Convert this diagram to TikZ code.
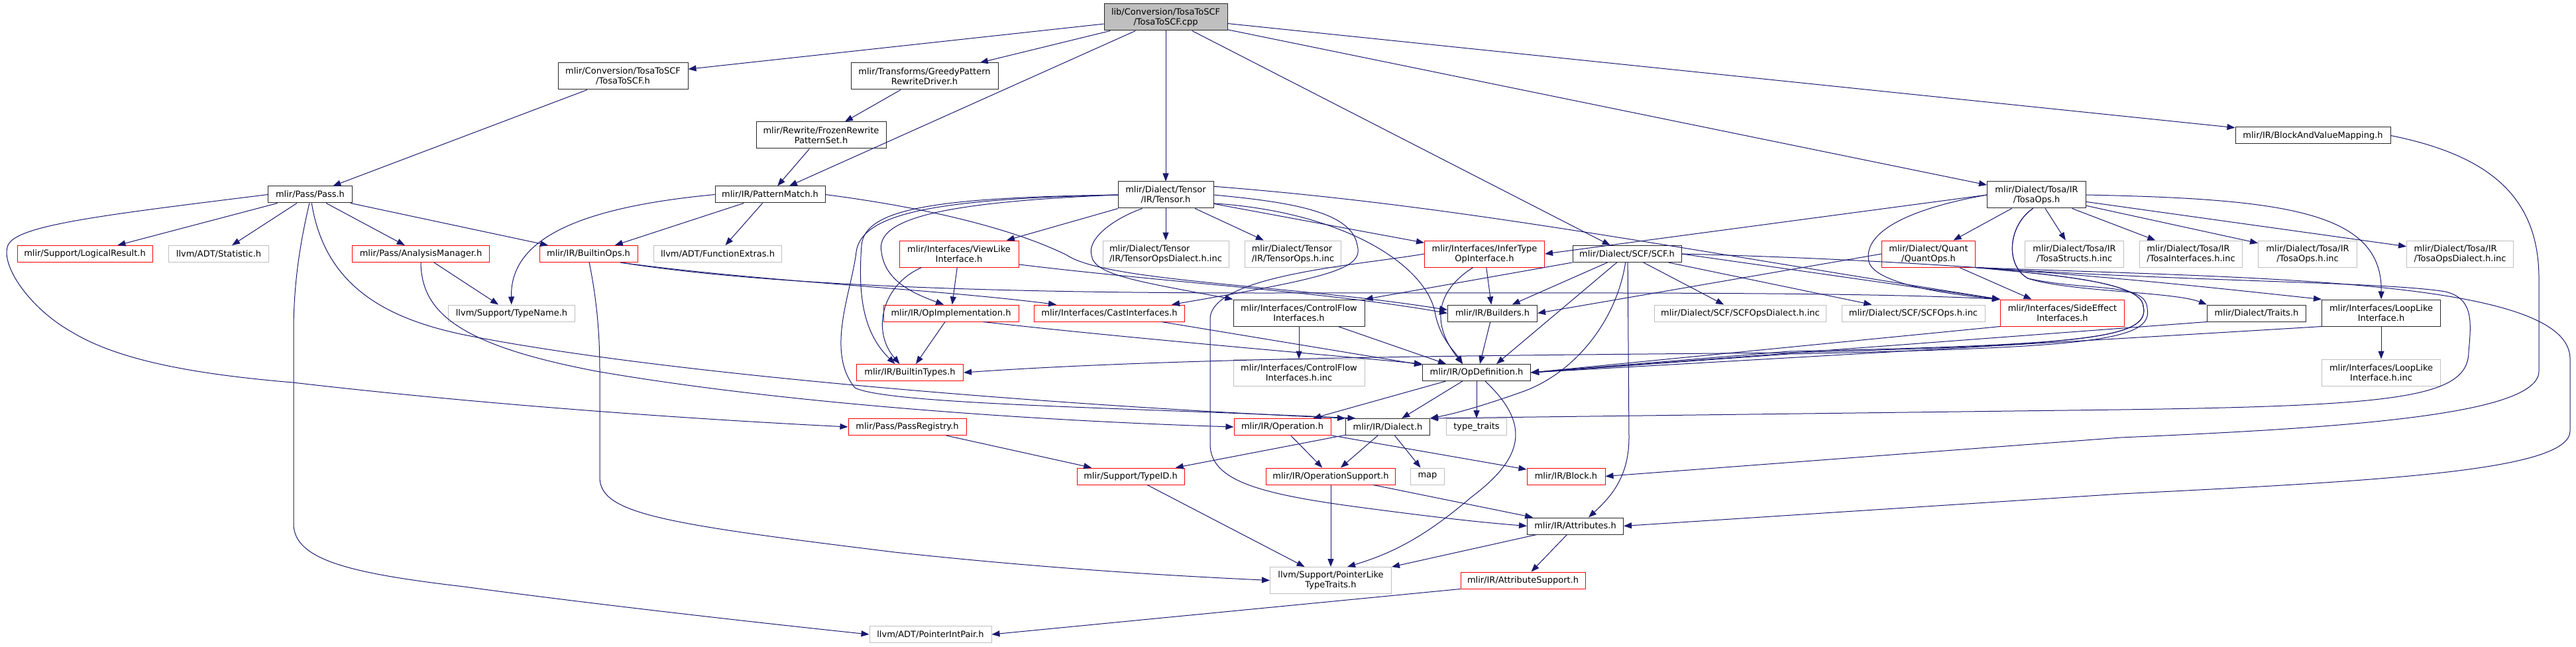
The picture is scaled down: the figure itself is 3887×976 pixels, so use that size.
\documentclass[tikz,border=0pt]{standalone}
\usepackage{fontspec}
\setmainfont{DejaVu Sans}
\usetikzlibrary{arrows.meta}

\definecolor{edgeblue}{HTML}{191970}
\definecolor{sysgray}{HTML}{BFBFBF}

\tikzset{
    hdr/.style={draw=black!85, line width=1pt, rectangle, inner sep=2pt, align=center,
        minimum height=25pt, font=\fontsize{13}{15}\selectfont},
    root/.style={hdr, fill=sysgray},
    trunc/.style={hdr, draw=red, line width=1pt},
    sys/.style={hdr, draw=sysgray, line width=1pt},
    dbl/.style={minimum height=40pt},
    inc/.style={draw=edgeblue, line width=1pt, -{Triangle[length=12pt,width=9pt]}},
}

\begin{document}
\begin{tikzpicture}[x=1pt, y=-1pt]
    \useasboundingbox (0,0) rectangle (3887,976);

    \node[root, dbl, minimum width=186pt] (cpp) at (1759,26) {lib/Conversion/TosaToSCF\\/TosaToSCF.cpp};
    \node[hdr, dbl, minimum width=196pt] (tosascfh) at (940,115) {mlir/Conversion/TosaToSCF\\/TosaToSCF.h};
    \node[hdr, dbl, minimum width=222pt] (greedy) at (1395,115) {mlir/Transforms/GreedyPattern\\RewriteDriver.h};
    \node[hdr, dbl, minimum width=196pt] (frozen) at (1239,204) {mlir/Rewrite/FrozenRewrite\\PatternSet.h};
    \node[hdr, minimum width=234pt] (bvm) at (3490,204.5) {mlir/IR/BlockAndValueMapping.h};
    \node[hdr, minimum width=127pt] (pass) at (468,293.5) {mlir/Pass/Pass.h};
    \node[hdr, minimum width=166pt] (patmatch) at (1162,293.5) {mlir/IR/PatternMatch.h};
    \node[hdr, dbl, minimum width=144pt] (tensor) at (1759,294) {mlir/Dialect/Tensor\\/IR/Tensor.h};
    \node[hdr, dbl, minimum width=149pt] (tosaops) at (3073,294) {mlir/Dialect/Tosa/IR\\/TosaOps.h};

    \node[trunc, minimum width=204pt] (logres) at (128,383) {mlir/Support/LogicalResult.h};
    \node[sys, minimum width=151pt] (statistic) at (330,383) {llvm/ADT/Statistic.h};
    \node[trunc, minimum width=207pt] (analysis) at (635,383) {mlir/Pass/AnalysisManager.h};
    \node[trunc, minimum width=148pt] (builtinops) at (888,383) {mlir/IR/BuiltinOps.h};
    \node[sys, minimum width=193pt] (funcextras) at (1083,383) {llvm/ADT/FunctionExtras.h};
    \node[trunc, dbl, minimum width=180pt] (viewlike) at (1447,383) {mlir/Interfaces/ViewLike\\Interface.h};
    \node[sys, dbl, minimum width=190pt, align=left] (tensordialectinc) at (1759,383) {mlir/Dialect/Tensor\\/IR/TensorOpsDialect.h.inc};
    \node[sys, dbl, minimum width=145pt, align=left] (tensoropsinc) at (1951,383) {mlir/Dialect/Tensor\\/IR/TensorOps.h.inc};
    \node[trunc, dbl, minimum width=181pt] (infertype) at (2240,383) {mlir/Interfaces/InferType\\OpInterface.h};
    \node[hdr, minimum width=164pt] (scf) at (2455,383) {mlir/Dialect/SCF/SCF.h};
    \node[trunc, dbl, minimum width=141pt] (quantops) at (2910,383) {mlir/Dialect/Quant\\/QuantOps.h};
    \node[sys, dbl, minimum width=149pt] (tosastructs) at (3130,383) {mlir/Dialect/Tosa/IR\\/TosaStructs.h.inc};
    \node[sys, dbl, minimum width=155pt, align=left] (tosaifaces) at (3306,383) {mlir/Dialect/Tosa/IR\\/TosaInterfaces.h.inc};
    \node[sys, dbl, minimum width=149pt] (tosaopsinc) at (3482,383) {mlir/Dialect/Tosa/IR\\/TosaOps.h.inc};
    \node[sys, dbl, minimum width=161pt, align=left] (tosadialectinc) at (3712,383) {mlir/Dialect/Tosa/IR\\/TosaOpsDialect.h.inc};

    \node[sys, minimum width=191pt] (typename) at (772,472.5) {llvm/Support/TypeName.h};
    \node[trunc, minimum width=204pt] (opimpl) at (1435,472.5) {mlir/IR/OpImplementation.h};
    \node[trunc, minimum width=227pt] (castifaces) at (1674,472.5) {mlir/Interfaces/CastInterfaces.h};
    \node[hdr, dbl, minimum width=198pt] (cflow) at (1960,472) {mlir/Interfaces/ControlFlow\\Interfaces.h};
    \node[hdr, minimum width=135pt] (builders) at (2252,472.5) {mlir/IR/Builders.h};
    \node[sys, minimum width=259pt] (scfdialectinc) at (2626,472.5) {mlir/Dialect/SCF/SCFOpsDialect.h.inc};
    \node[sys, minimum width=216pt] (scfopsinc) at (2887,472.5) {mlir/Dialect/SCF/SCFOps.h.inc};
    \node[trunc, dbl, minimum width=187pt] (sideeffect) at (3112,472) {mlir/Interfaces/SideEffect\\Interfaces.h};
    \node[hdr, minimum width=149pt] (traits) at (3405,472.5) {mlir/Dialect/Traits.h};
    \node[hdr, dbl, minimum width=179pt] (looplike) at (3593,472) {mlir/Interfaces/LoopLike\\Interface.h};

    \node[trunc, minimum width=161pt] (builtintypes) at (1373,562) {mlir/IR/BuiltinTypes.h};
    \node[sys, dbl, minimum width=198pt] (cflowinc) at (1960,562) {mlir/Interfaces/ControlFlow\\Interfaces.h.inc};
    \node[hdr, minimum width=163pt] (opdef) at (2228,562) {mlir/IR/OpDefinition.h};
    \node[sys, dbl, minimum width=179pt] (looplikeinc) at (3593,562) {mlir/Interfaces/LoopLike\\Interface.h.inc};

    \node[trunc, minimum width=178pt] (passreg) at (1369,644) {mlir/Pass/PassRegistry.h};
    \node[trunc, minimum width=146pt] (operation) at (1935,644) {mlir/IR/Operation.h};
    \node[hdr, minimum width=127pt] (dialect) at (2094,644) {mlir/IR/Dialect.h};
    \node[sys, minimum width=91pt] (typetraits) at (2228,644) {type\_traits};

    \node[trunc, minimum width=162pt] (typeid) at (1706,718.5) {mlir/Support/TypeID.h};
    \node[trunc, minimum width=195pt] (opsupport) at (2008,718.5) {mlir/IR/OperationSupport.h};
    \node[sys, minimum width=51pt] (map) at (2154,718.5) {map};
    \node[trunc, minimum width=118pt] (block) at (2363,718.5) {mlir/IR/Block.h};

    \node[hdr, minimum width=145pt] (attributes) at (2377,793.5) {mlir/IR/Attributes.h};
    \node[sys, dbl, minimum width=183pt] (ptrlike) at (2008,875.5) {llvm/Support/PointerLike\\TypeTraits.h};
    \node[trunc, minimum width=188pt] (attrsupport) at (2298,875.5) {mlir/IR/AttributeSupport.h};
    \node[sys, minimum width=184pt] (ptrintpair) at (1404,957) {llvm/ADT/PointerIntPair.h};

    \draw[inc] (cpp) -- (tosascfh);
    \draw[inc] (cpp) -- (greedy);
    \draw[inc] (cpp) -- (patmatch);
    \draw[inc] (cpp) -- (tensor);
    \draw[inc] (cpp) -- (scf);
    \draw[inc] (cpp) -- (tosaops);
    \draw[inc] (cpp) -- (bvm);

    \draw[inc] (tosascfh) -- (pass);
    \draw[inc] (greedy) -- (frozen);
    \draw[inc] (frozen) -- (patmatch);

    \draw[inc] (pass) -- (logres);
    \draw[inc] (pass) -- (statistic);
    \draw[inc] (pass) -- (analysis);
    \draw[inc] (pass) -- (builtinops);
    \draw[inc] (pass.west) .. controls (150,325) and (25,340) .. (12,370) .. controls (0,400) and (45,465) .. (107,500)
        .. controls (180,545) and (300,565) .. (442,577) .. controls (700,607) and (1000,630) .. (passreg.west);
    \draw[inc] (pass.-95) .. controls (452,370) and (443,430) .. (443,500) -- (443,790)
        .. controls (443,845) and (530,865) .. (700,885) .. controls (900,912) and (1150,940) .. (ptrintpair.west);
    \draw[inc] (pass.-80) .. controls (490,430) and (580,480) .. (700,505) .. controls (1000,565) and (1600,612) .. (dialect.north west);

    \draw[inc] (analysis) -- (typename);
    \draw[inc] (analysis.south) .. controls (636,470) and (690,520) .. (900,560) .. controls (1200,612) and (1600,636) .. (operation.west);

    \draw[inc] (patmatch.west) .. controls (850,315) and (770,370) .. (typename);
    \draw[inc] (patmatch) -- (builtinops);
    \draw[inc] (patmatch) -- (funcextras);
    \draw[inc] (patmatch.east) .. controls (1450,320) and (1560,360) .. (1610,385) .. controls (1670,425) and (1950,430) .. ([yshift=5pt]builders.west);

    \draw[inc] (builtinops.-85) .. controls (900,450) and (905,500) .. (905,560) -- (905,720)
        .. controls (905,775) and (1000,790) .. (1350,833) .. controls (1600,860) and (1800,870) .. (ptrlike.west);
    \draw[inc] (builtinops.-15) .. controls (1150,425) and (1400,435) .. ([xshift=-80pt]castifaces.north);
    \draw[inc] (builtinops.-15) .. controls (1150,430) and (1500,442) .. (1900,442) .. controls (2400,442) and (2800,440) .. (sideeffect.north west);

    \draw[inc] (tensor) -- (viewlike);
    \draw[inc] (tensor) -- (tensordialectinc);
    \draw[inc] (tensor) -- (tensoropsinc);
    \draw[inc] (tensor) -- (infertype);
    \draw[inc] (tensor.west) .. controls (1410,298) and (1305,315) .. (1300,370) .. controls (1295,440) and (1300,500) .. (builtintypes.150);
    \draw[inc] (tensor.west) .. controls (1420,305) and (1320,330) .. (1330,380) .. controls (1335,420) and (1370,440) .. (opimpl.130);
    \draw[inc] (tensor.west) .. controls (1420,300) and (1300,320) .. (1292,380) .. controls (1285,440) and (1245,530) .. (1290,585)
        .. controls (1340,610) and (1700,615) .. (dialect.165);
    \draw[inc] (tensor.-150) .. controls (1680,330) and (1640,360) .. (1647,385) .. controls (1650,415) and (1720,425) .. (cflow.north west);
    \draw[inc] (tensor.east) .. controls (1950,305) and (2040,320) .. (2048,370) .. controls (2058,405) and (2010,418) .. ([xshift=-20pt]castifaces.north east);
    \draw[inc] (tensor.-10) .. controls (2030,320) and (2150,400) .. (2165,470) .. controls (2172,510) and (2195,530) .. ([xshift=-21pt]opdef.north);
    \draw[inc] (tensor.10) .. controls (2200,310) and (2500,370) .. (sideeffect.north west);

    \draw[inc] (viewlike) -- (opimpl);
    \draw[inc] (viewlike.-160) .. controls (1330,430) and (1315,500) .. (builtintypes.140);
    \draw[inc] (viewlike.-10) .. controls (1750,425) and (2000,440) .. (builders.west);

    \draw[inc] (opimpl) -- (builtintypes);
    \draw[inc] (opimpl.-15) .. controls (1700,510) and (2000,535) .. (opdef.north west);
    \draw[inc] (castifaces) -- (opdef.172);
    \draw[inc] (cflow) -- (cflowinc);
    \draw[inc] (cflow) -- ([xshift=-46pt]opdef.north);

    \draw[inc] (infertype) -- (builders);
    \draw[inc] (infertype.-130) .. controls (2165,440) and (2160,490) .. ([xshift=-21pt]opdef.north);
    \draw[inc] (infertype.west) .. controls (2050,400) and (1830,415) .. (1826,480) -- (1826,670)
        .. controls (1826,725) and (1900,745) .. (2050,765) .. controls (2200,785) and (2260,790) .. (attributes.west);

    \draw[inc] (scf.south west) -- (cflow.north east);
    \draw[inc] (scf) -- (builders);
    \draw[inc] (scf) -- ([xshift=30pt]opdef.north);
    \draw[inc] (scf) -- (scfdialectinc);
    \draw[inc] (scf) -- (scfopsinc);
    \draw[inc] (scf.east) -- (sideeffect.north west);
    \draw[inc] (scf.east) .. controls (3000,395) and (3300,430) .. (looplike.north west);
    \draw[inc] (scf.-100) .. controls (2440,480) and (2380,560) .. (2300,590) .. controls (2230,615) and (2190,625) .. (dialect.north east);
    \draw[inc] (scf.-85) -- (2458,660) .. controls (2458,720) and (2430,750) .. ([xshift=20pt]attributes.north);

    \draw[inc] (tosaops.west) -- (infertype.east);
    \draw[inc] (tosaops) -- (quantops);
    \draw[inc] (tosaops) -- (tosastructs);
    \draw[inc] (tosaops) -- (tosaifaces);
    \draw[inc] (tosaops) -- (tosaopsinc);
    \draw[inc] (tosaops) -- (tosadialectinc);
    \draw[inc] (tosaops.east) .. controls (3450,300) and (3595,320) .. (looplike.north);
    \draw[inc] (tosaops.west) .. controls (2880,315) and (2810,350) .. (2820,395) .. controls (2830,430) and (2950,445) .. (sideeffect.north west);
    \draw[inc] (tosaops.-105) .. controls (3030,340) and (3025,400) .. (3060,420) .. controls (3120,440) and (3280,440) .. (traits.north west);
    \draw[inc] (tosaops.-105) .. controls (3030,340) and (3025,400) .. (3060,420) .. controls (3150,440) and (3238,425) .. (3240,465)
        .. controls (3250,515) and (3150,524) .. (2700,534) -- (opdef.east);

    \draw[inc] (quantops) -- (sideeffect);
    \draw[inc] (quantops.west) -- (builders.east);
    \draw[inc] (quantops.south east) .. controls (3100,415) and (3232,425) .. (3234,462) .. controls (3245,510) and (3150,520) .. (2700,530) -- (opdef.east);
    \draw[inc] (quantops.south east) .. controls (3100,415) and (3232,425) .. (3234,462) .. controls (3245,510) and (3150,520) .. (2700,532)
        .. controls (2300,536) and (1800,538) .. (builtintypes.east);
    \draw[inc] (quantops.south east) .. controls (3300,425) and (3600,425) .. (3690,440) .. controls (3730,450) and (3730,480) .. (3725,530)
        .. controls (3725,600) and (3620,612) .. (3200,618) -- (dialect.north east);
    \draw[inc] (quantops.south east) .. controls (3400,420) and (3875,420) .. (3878,540) -- (3878,650)
        .. controls (3878,710) and (3600,725) .. (3200,745) -- (attributes.east);

    \draw[inc] (sideeffect.south west) -- (opdef.east);
    \draw[inc] (traits.south west) -- (opdef.east);
    \draw[inc] (looplike) -- (looplikeinc);
    \draw[inc] (looplike.south west) .. controls (3300,505) and (2700,540) .. (opdef.east);
    \draw[inc] (builders) -- ([xshift=5pt]opdef.north);

    \draw[inc] (bvm.east) .. controls (3760,235) and (3831,300) .. (3831,420) -- (3831,560)
        .. controls (3831,625) and (3550,645) .. (3200,660) -- (block.east);

    \draw[inc] (opdef) -- (operation);
    \draw[inc] (opdef) -- (dialect);
    \draw[inc] (opdef) -- (typetraits);
    \draw[inc] (opdef.-45) .. controls (2310,640) and (2300,690) .. (2220,750) .. controls (2150,810) and (2100,835) .. ([xshift=25pt]ptrlike.north);

    \draw[inc] (operation) -- (opsupport);
    \draw[inc] (operation) -- (block);
    \draw[inc] (dialect) -- (opsupport);
    \draw[inc] (dialect) -- (map);
    \draw[inc] (dialect) -- (typeid);
    \draw[inc] (passreg) -- (typeid);
    \draw[inc] (typeid) -- (ptrlike);
    \draw[inc] (opsupport) -- (ptrlike);
    \draw[inc] (opsupport) -- (attributes);
    \draw[inc] (attributes) -- (ptrlike);
    \draw[inc] (attributes) -- (attrsupport);
    \draw[inc] (attrsupport.south west) -- (ptrintpair.east);
\end{tikzpicture}
\end{document}
